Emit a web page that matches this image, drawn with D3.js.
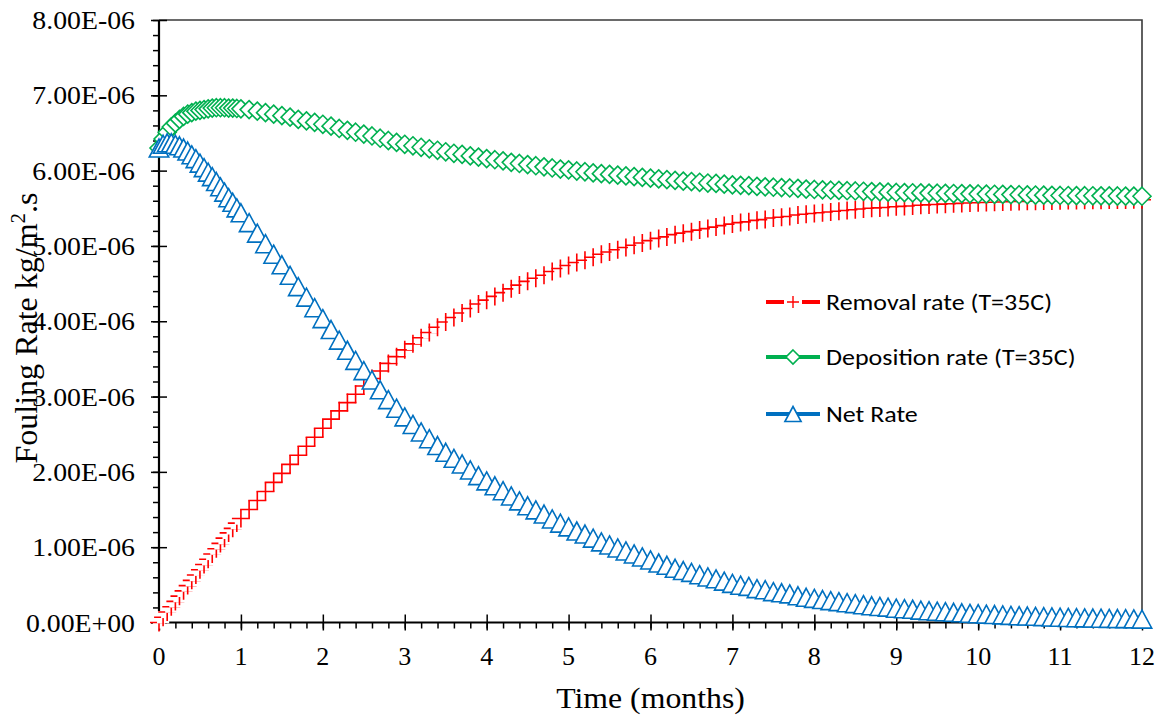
<!DOCTYPE html>
<html>
<head>
<meta charset="utf-8">
<script src="https://cdn.jsdelivr.net/npm/d3@7"></script>
<style>
  body { margin: 0; background: #fff; }
  svg { display: block; }
</style>
</head>
<body>
<svg id="chart" width="1165" height="717"></svg>
<script>
// Time axis in months (finer steps during the first month)
const months = [
  0, 0.05, 0.1, 0.15, 0.2, 0.25, 0.3, 0.35, 0.4, 0.45, 0.5, 0.55, 0.6, 0.65, 0.7, 0.75, 0.8, 0.85, 0.9, 0.95, 1,
  1.1, 1.2, 1.3, 1.4, 1.5, 1.6, 1.7, 1.8, 1.9, 2,
  2.1, 2.2, 2.3, 2.4, 2.5, 2.6, 2.7, 2.8, 2.9, 3,
  3.1, 3.2, 3.3, 3.4, 3.5, 3.6, 3.7, 3.8, 3.9, 4,
  4.1, 4.2, 4.3, 4.4, 4.5, 4.6, 4.7, 4.8, 4.9, 5,
  5.1, 5.2, 5.3, 5.4, 5.5, 5.6, 5.7, 5.8, 5.9, 6,
  6.1, 6.2, 6.3, 6.4, 6.5, 6.6, 6.7, 6.8, 6.9, 7,
  7.1, 7.2, 7.3, 7.4, 7.5, 7.6, 7.7, 7.8, 7.9, 8,
  8.1, 8.2, 8.3, 8.4, 8.5, 8.6, 8.7, 8.8, 8.9, 9,
  9.1, 9.2, 9.3, 9.4, 9.5, 9.6, 9.7, 9.8, 9.9, 10,
  10.1, 10.2, 10.3, 10.4, 10.5, 10.6, 10.7, 10.8, 10.9, 11,
  11.1, 11.2, 11.3, 11.4, 11.5, 11.6, 11.7, 11.8, 11.9, 12
];

// Rates in units of 1E-06 kg/m2.s
const removalRate = [
  0, 0.07, 0.14, 0.21, 0.28, 0.35, 0.42, 0.49, 0.56, 0.63, 0.70, 0.77, 0.84, 0.91, 0.98, 1.05, 1.12, 1.19, 1.25, 1.32, 1.38,
  1.50, 1.62, 1.74, 1.86, 1.98, 2.10, 2.22, 2.34, 2.46, 2.58,
  2.70, 2.81, 2.92, 3.03, 3.14, 3.24, 3.34, 3.44, 3.53, 3.62,
  3.70, 3.78, 3.85, 3.92, 3.99, 4.05, 4.11, 4.17, 4.23, 4.28,
  4.33, 4.38, 4.43, 4.48, 4.53, 4.57, 4.61, 4.66, 4.70, 4.74,
  4.78, 4.81, 4.85, 4.89, 4.92, 4.95, 4.98, 5.01, 5.04, 5.07,
  5.10, 5.12, 5.15, 5.17, 5.19, 5.21, 5.23, 5.25, 5.27, 5.29,
  5.31, 5.32, 5.34, 5.35, 5.37, 5.38, 5.39, 5.41, 5.42, 5.43,
  5.44, 5.45, 5.46, 5.47, 5.48, 5.49, 5.50, 5.505, 5.51, 5.52,
  5.525, 5.53, 5.54, 5.545, 5.55, 5.555, 5.56, 5.565, 5.57, 5.573,
  5.577, 5.58, 5.583, 5.587, 5.59, 5.592, 5.594, 5.596, 5.598, 5.60,
  5.602, 5.604, 5.606, 5.607, 5.608, 5.609, 5.61, 5.611, 5.612, 5.613
];

const depositionRate = [
  6.30, 6.42, 6.51, 6.58, 6.63, 6.68, 6.72, 6.75, 6.77, 6.79, 6.80, 6.81, 6.82, 6.83, 6.835, 6.835, 6.835, 6.83, 6.83, 6.825, 6.82,
  6.81, 6.79, 6.77, 6.75, 6.73, 6.71, 6.68, 6.66, 6.64, 6.615,
  6.59, 6.56, 6.535, 6.51, 6.485, 6.46, 6.43, 6.40, 6.375, 6.35,
  6.33, 6.31, 6.29, 6.27, 6.25, 6.23, 6.215, 6.195, 6.18, 6.16,
  6.145, 6.13, 6.11, 6.095, 6.08, 6.065, 6.05, 6.035, 6.02, 6.01,
  5.995, 5.985, 5.97, 5.96, 5.95, 5.94, 5.93, 5.92, 5.91, 5.90,
  5.89, 5.88, 5.87, 5.86, 5.855, 5.845, 5.835, 5.83, 5.82, 5.81,
  5.805, 5.80, 5.79, 5.785, 5.78, 5.775, 5.77, 5.765, 5.755, 5.75,
  5.745, 5.74, 5.737, 5.733, 5.73, 5.726, 5.722, 5.718, 5.714, 5.71,
  5.708, 5.706, 5.704, 5.702, 5.70, 5.698, 5.696, 5.694, 5.692, 5.69,
  5.688, 5.686, 5.684, 5.682, 5.68, 5.678, 5.676, 5.674, 5.672, 5.67,
  5.669, 5.668, 5.667, 5.666, 5.665, 5.664, 5.663, 5.662, 5.661, 5.66
];

const netRate = [
  6.30, 6.35, 6.37, 6.37, 6.35, 6.33, 6.30, 6.26, 6.21, 6.16, 6.10, 6.04, 5.98, 5.92, 5.855, 5.785, 5.715, 5.64, 5.58, 5.505, 5.44,
  5.31, 5.17, 5.03, 4.89, 4.75, 4.61, 4.46, 4.32, 4.18, 4.035,
  3.89, 3.75, 3.615, 3.48, 3.345, 3.22, 3.09, 2.96, 2.845, 2.73,
  2.63, 2.53, 2.44, 2.35, 2.26, 2.18, 2.105, 2.025, 1.95, 1.88,
  1.815, 1.75, 1.68, 1.615, 1.55, 1.495, 1.44, 1.375, 1.32, 1.27,
  1.215, 1.175, 1.12, 1.07, 1.03, 0.99, 0.95, 0.91, 0.87, 0.83,
  0.79, 0.76, 0.72, 0.69, 0.665, 0.635, 0.605, 0.58, 0.55, 0.52,
  0.495, 0.48, 0.45, 0.435, 0.41, 0.395, 0.38, 0.355, 0.335, 0.32,
  0.305, 0.29, 0.277, 0.263, 0.25, 0.236, 0.222, 0.213, 0.204, 0.19,
  0.183, 0.176, 0.164, 0.157, 0.15, 0.143, 0.136, 0.129, 0.122, 0.117,
  0.111, 0.106, 0.101, 0.095, 0.09, 0.086, 0.082, 0.078, 0.074, 0.07,
  0.067, 0.064, 0.061, 0.059, 0.057, 0.055, 0.053, 0.051, 0.049, 0.045
];

const yTickValues = [0, 1, 2, 3, 4, 5, 6, 7, 8];
const yTickLabels = ["0.00E+00", "1.00E-06", "2.00E-06", "3.00E-06", "4.00E-06",
                     "5.00E-06", "6.00E-06", "7.00E-06", "8.00E-06"];
const xTickValues = [0, 1, 2, 3, 4, 5, 6, 7, 8, 9, 10, 11, 12];
const xTickLabels = ["0", "1", "2", "3", "4", "5", "6", "7", "8", "9", "10", "11", "12"];
const seriesNames = ["Removal rate (T=35C)", "Deposition rate (T=35C)", "Net Rate"];

const svg = d3.select("#chart");
const box = { left: 159, right: 1142, top: 20, bottom: 622.5 };

const x = d3.scaleLinear().domain([0, 12]).range([box.left, box.right]);
const y = d3.scaleLinear().domain([0, 8]).range([box.bottom, box.top]);

const serif = "'Liberation Serif', 'Times New Roman', Times, serif";
const sans = "Carlito, Calibri, Lato, 'Open Sans', sans-serif";

// --- plot frame (top and right edges) ---
svg.append("path")
  .attr("d", `M${box.left},${box.top}H${box.right}V${box.bottom}`)
  .attr("fill", "none").attr("stroke", "#3a3a3a").attr("stroke-width", 1.6);

// --- axes ticks ---
function styleTicks(g) {
  g.select(".domain").remove();
  g.selectAll(".tick line").attr("stroke", "#000").attr("stroke-width", 1.5);
  g.selectAll(".tick text").remove();
}
const yMinor = d3.range(0, 8.001, 0.2);
const xMinor = d3.range(0, 12.001, 0.2);

svg.append("g").attr("transform", `translate(${box.left},0)`)
  .call(d3.axisLeft(y).tickValues(yMinor).tickSize(6)).call(styleTicks);
svg.append("g").attr("transform", `translate(${box.left},0)`)
  .call(d3.axisLeft(y).tickValues(yTickValues).tickSize(8)).call(styleTicks);
svg.append("g").attr("transform", `translate(${box.left},0)`)
  .call(d3.axisRight(y).tickValues(yTickValues).tickSize(8)).call(styleTicks);

svg.append("g").attr("transform", `translate(0,${box.bottom})`)
  .call(d3.axisBottom(x).tickValues(xMinor).tickSize(6)).call(styleTicks);
svg.append("g").attr("transform", `translate(0,${box.bottom})`)
  .call(d3.axisBottom(x).tickValues(xTickValues).tickSize(8)).call(styleTicks);
svg.append("g").attr("transform", `translate(0,${box.bottom})`)
  .call(d3.axisTop(x).tickValues(xTickValues).tickSize(8)).call(styleTicks);

// axis lines
svg.append("line").attr("x1", box.left).attr("x2", box.left)
  .attr("y1", box.top).attr("y2", box.bottom)
  .attr("stroke", "#000").attr("stroke-width", 2.2);
svg.append("line").attr("x1", box.left).attr("x2", box.right)
  .attr("y1", box.bottom).attr("y2", box.bottom)
  .attr("stroke", "#000").attr("stroke-width", 2.2);

// tick labels (slightly widened serif face)
svg.append("g").selectAll("text").data(yTickValues).join("text")
  .attr("transform", d => `translate(${box.left - 24},${y(d) + 9}) scale(1.07,1)`)
  .attr("text-anchor", "end")
  .attr("font-family", serif).attr("font-size", 26)
  .attr("fill", "#000")
  .text((d, i) => yTickLabels[i]);

svg.append("g").selectAll("text").data(xTickValues).join("text")
  .attr("x", d => x(d)).attr("y", 665)
  .attr("text-anchor", "middle")
  .attr("font-family", serif).attr("font-size", 26)
  .attr("fill", "#000")
  .text((d, i) => xTickLabels[i]);

// axis titles
svg.append("text")
  .attr("transform", `translate(${(box.left + box.right) / 2},708) scale(1.06,1)`)
  .attr("text-anchor", "middle")
  .attr("font-family", serif).attr("font-size", 30)
  .attr("fill", "#000")
  .text("Time (months)");

const yTitle = svg.append("text")
  .attr("transform", "translate(37,328) rotate(-90)")
  .attr("text-anchor", "middle")
  .attr("font-family", serif).attr("font-size", 32)
  .attr("fill", "#000");
yTitle.append("tspan").text("Fouling Rate kg/m");
yTitle.append("tspan").attr("font-size", 21).attr("dy", -12).text("2");
yTitle.append("tspan").attr("dy", 12).text(".s");

// --- series ---
const series = [
  { name: seriesNames[0], values: removalRate, color: "#ff0000", marker: "plus" },
  { name: seriesNames[1], values: depositionRate, color: "#00b050", marker: "diamond" },
  { name: seriesNames[2], values: netRate, color: "#0070c0", marker: "triangle" }
];

const markerPath = {
  plus: s => `M${-s},0H${s}M0,${-s}V${s}`,
  diamond: s => `M0,${-s}L${s},0L0,${s}L${-s},0Z`,
  triangle: s => `M0,${-s}L${s * 1.08},${s}L${-s * 1.08},${s}Z`
};

function drawMarker(g, type, color, size) {
  if (type === "plus") {
    const h = size * 0.68;
    g.append("rect").attr("x", -h).attr("y", -h).attr("width", 2 * h).attr("height", 2 * h)
      .attr("fill", "#fff");
    g.append("path").attr("d", markerPath.plus(size))
      .attr("fill", "none").attr("stroke", color).attr("stroke-width", 1.6);
  } else {
    g.append("path").attr("d", markerPath[type](size))
      .attr("fill", "#fff").attr("stroke", color).attr("stroke-width", 1.6)
      .attr("stroke-linejoin", "miter");
  }
}

const line = d3.line().x(d => x(d[0])).y(d => y(d[1]));

series.forEach(s => {
  const pts = months.map((t, i) => [t, s.values[i]]);
  const g = svg.append("g");
  g.append("path").datum(pts).attr("d", line)
    .attr("fill", "none").attr("stroke", s.color).attr("stroke-width", 2);
  pts.forEach(p => {
    const mg = g.append("g").attr("transform", `translate(${x(p[0])},${y(p[1])})`);
    drawMarker(mg, s.marker, s.color, 9);
  });
});

// --- legend ---
const legendRows = [302, 357, 414];
const legendMarkerSize = [6, 7, 7.5];
const legend = svg.append("g");
series.forEach((s, i) => {
  const ly = legendRows[i];
  legend.append("line").attr("x1", 766).attr("x2", 820).attr("y1", ly).attr("y2", ly)
    .attr("stroke", s.color).attr("stroke-width", 4);
  const mg = legend.append("g").attr("transform", `translate(793,${ly})`);
  if (s.marker === "plus") {
    mg.append("rect").attr("x", -9).attr("y", -9).attr("width", 18).attr("height", 18).attr("fill", "#fff");
    mg.append("path").attr("d", markerPath.plus(6))
      .attr("fill", "none").attr("stroke", s.color).attr("stroke-width", 1.4);
  } else {
    drawMarker(mg, s.marker, s.color, legendMarkerSize[i]);
  }
  legend.append("text").attr("transform", `translate(826,${ly + 8}) scale(1.13,1)`)
    .attr("font-family", sans).attr("font-size", 23).attr("fill", "#000")
    .text(s.name);
});
</script>
</body>
</html>
